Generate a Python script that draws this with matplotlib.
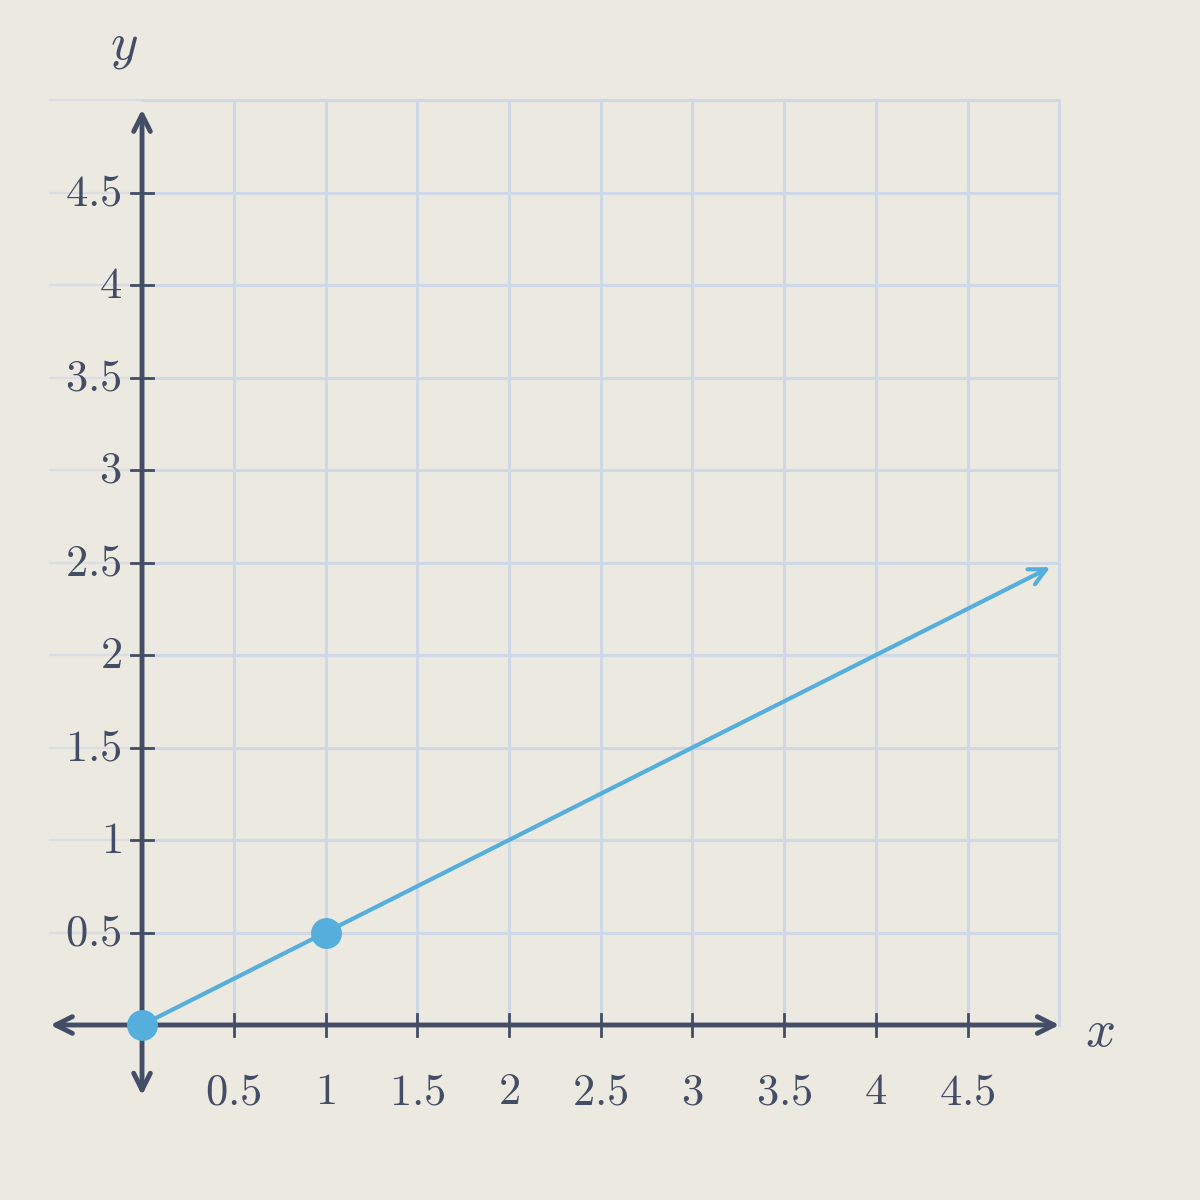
import numpy as np
import matplotlib.pyplot as plt

# Daten
pts_x = [0, 1]
pts_y = [0, 0.5]
ray_x = [0, 1, 4.95]
ray_y = [0, 0.5, 2.475]
x_ticks = [0.5, 1, 1.5, 2, 2.5, 3, 3.5, 4, 4.5]
y_ticks = [0.5, 1, 1.5, 2, 2.5, 3, 3.5, 4, 4.5]
x_ticklabels = ["0.5", "1", "1.5", "2", "2.5", "3", "3.5", "4", "4.5"]
y_ticklabels = ["0.5", "1", "1.5", "2", "2.5", "3", "3.5", "4", "4.5"]
grid_vals = np.arange(0.5, 5.01, 0.5)

bg = "#ece9e1"
axc = "#434d66"
linec = "#55aedb"
gridc = "#cfd8e7"

plt.rcParams["mathtext.fontset"] = "cm"

fig = plt.figure(figsize=(12, 12), dpi=100, facecolor=bg)
ax = fig.add_axes([0, 0, 1, 1])
ax.set_facecolor(bg)
ax.set_xlim(-0.774, 5.766)
ax.set_ylim(-0.946, 5.541)
ax.axis("off")

# Gitter
for g in grid_vals:
    ax.plot([g, g], [0, 5], color=gridc, lw=2.2, zorder=1)
    ax.plot([0, 5], [g, g], color=gridc, lw=2.2, zorder=1)
    ax.plot([-0.5, 0], [g, g], color=gridc, lw=1.6, alpha=0.6, zorder=1)

# Achsen
ax.annotate("", xy=(-0.5, 0), xytext=(5.0, 0),
            arrowprops=dict(arrowstyle="<->", color=axc, lw=3.5,
                            mutation_scale=30, shrinkA=0, shrinkB=0), zorder=3)
ax.annotate("", xy=(0, -0.38), xytext=(0, 4.95),
            arrowprops=dict(arrowstyle="<->", color=axc, lw=3.5,
                            mutation_scale=30, shrinkA=0, shrinkB=0), zorder=3)

for t, lab in zip(x_ticks, x_ticklabels):
    ax.plot([t, t], [-0.06, 0.06], color=axc, lw=2, zorder=3)
    ax.text(t, -0.36, r"$\mathrm{%s}$" % lab, ha="center", va="center",
            fontsize=32, color=axc)
for t, lab in zip(y_ticks, y_ticklabels):
    ax.plot([-0.06, 0.06], [t, t], color=axc, lw=2, zorder=3)
    ax.text(-0.11, t, r"$\mathrm{%s}$" % lab, ha="right", va="center",
            fontsize=32, color=axc)

ax.text(5.22, -0.03, r"$x$", ha="center", va="center", fontsize=38, color=axc)
ax.text(-0.1, 5.3, r"$y$", ha="center", va="center", fontsize=38, color=axc)

# Strahl
ax.annotate("", xy=(ray_x[-1], ray_y[-1]), xytext=(ray_x[1], ray_y[1]),
            arrowprops=dict(arrowstyle="->", color=linec, lw=3,
                            mutation_scale=30, shrinkA=0, shrinkB=0), zorder=4)
ax.plot(ray_x[:2], ray_y[:2], color=linec, lw=3, zorder=4)
ax.scatter(pts_x, pts_y, s=450, color=linec, zorder=5)

fig.savefig("out.png", dpi=100, facecolor=bg)
